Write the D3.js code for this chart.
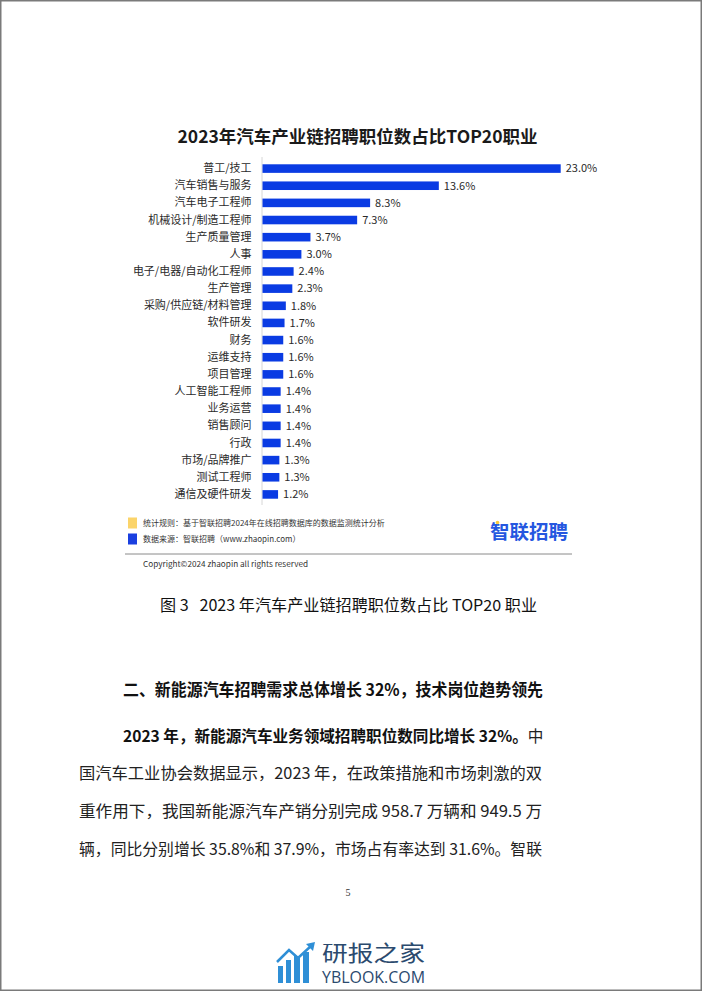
<!DOCTYPE html>
<html><head><meta charset="utf-8">
<script src="https://cdn.jsdelivr.net/npm/d3@7/dist/d3.min.js"></script>
<style>html,body{margin:0;padding:0;background:#fff;}svg{display:block;}text{white-space:pre;}</style>
</head><body>
<script>
const categories = ["普工/技工","汽车销售与服务","汽车电子工程师","机械设计/制造工程师","生产质量管理","人事","电子/电器/自动化工程师","生产管理","采购/供应链/材料管理","软件研发","财务","运维支持","项目管理","人工智能工程师","业务运营","销售顾问","行政","市场/品牌推广","测试工程师","通信及硬件研发"];
const values = [23.0,13.6,8.3,7.3,3.7,3.0,2.4,2.3,1.8,1.7,1.6,1.6,1.6,1.4,1.4,1.4,1.4,1.3,1.3,1.2];
const title = "2023年汽车产业链招聘职位数占比TOP20职业";
const legendTexts = ["统计规则：基于智联招聘2024年在线招聘数据库的数据监测统计分析","数据来源：智联招聘（www.zhaopin.com）"];
const legendColors = ["#fbd46a","#1a3fe0"];
const caption = "图 3   2023 年汽车产业链招聘职位数占比 TOP20 职业";
const heading = "二、新能源汽车招聘需求总体增长 32%，技术岗位趋势领先";
const paraLines = [
  {bold:"2023 年，新能源汽车业务领域招聘职位数同比增长 32%。", rest:"中"},
  {bold:"", rest:"国汽车工业协会数据显示，2023 年，在政策措施和市场刺激的双"},
  {bold:"", rest:"重作用下，我国新能源汽车产销分别完成 958.7 万辆和 949.5 万"},
  {bold:"", rest:"辆，同比分别增长 35.8%和 37.9%，市场占有率达到 31.6%。智联"}
];

const W = 702, H = 991;
const cjk = '"Noto Sans CJK SC", "Noto Sans", sans-serif';
const svg = d3.select("body").append("svg").attr("width", W).attr("height", H);
svg.append("rect").attr("x",0.75).attr("y",0.75).attr("width",W-1.5).attr("height",H-1.5)
  .attr("fill","#fff").attr("stroke","#7a7a7a").attr("stroke-width",1.5);

// Title
svg.append("text").attr("x",357.5).attr("y",143).attr("text-anchor","middle")
  .attr("font-family",cjk).attr("font-weight","bold").attr("font-size",17.5)
  .attr("fill","#1a1a1a").text(title);

// Chart
const x = d3.scaleLinear().domain([0,23]).range([262.5, 560.7]);
const y = d3.scaleBand().domain(categories).range([160,503]).paddingInner(0.5).paddingOuter(0.25);

svg.append("line").attr("x1",262).attr("x2",262).attr("y1",157).attr("y2",505)
  .attr("stroke","#d6d6d6").attr("stroke-width",1);

const yAxis = d3.axisLeft(y).tickSize(0).tickPadding(10.5);
const gy = svg.append("g").attr("transform","translate(262,0)").call(yAxis);
gy.select(".domain").remove();
gy.selectAll("text").attr("font-family",cjk).attr("font-size",11).attr("fill","#2a2a2a");

svg.append("g").selectAll("rect").data(values).join("rect")
  .attr("x", x(0)).attr("y",(d,i)=>y(categories[i]))
  .attr("width", d=>x(d)-x(0)).attr("height", y.bandwidth())
  .attr("fill","#0a3be3");

svg.append("g").selectAll("text").data(values).join("text")
  .attr("x", d=>x(d)+5).attr("y",(d,i)=>y(categories[i])+y.bandwidth()/2)
  .attr("dy","0.35em").attr("font-family",cjk).attr("font-size",11).attr("fill","#2a2a2a")
  .text(d=>d.toFixed(1)+"%");

// Legend
legendTexts.forEach((t,i)=>{
  const cy = 523 + i*16;
  svg.append("rect").attr("x",128).attr("y",cy-5.5).attr("width",9).attr("height",11).attr("fill",legendColors[i]);
  svg.append("text").attr("x",143).attr("y",cy).attr("dy","0.35em")
    .attr("font-family",cjk).attr("font-size",8).attr("fill","#333").text(t);
});
// zhaopin logo
svg.append("text").attr("x",490).attr("y",532).attr("dy","0.36em")
  .attr("font-family",cjk).attr("font-weight","bold").attr("font-size",19.5)
  .attr("fill","#2557e0").attr("textLength",78).attr("lengthAdjust","spacingAndGlyphs").text("智联招聘");
svg.append("circle").attr("cx",497.5).attr("cy",522.5).attr("r",1.8).attr("fill","#fbc93a");

svg.append("line").attr("x1",125).attr("x2",572).attr("y1",554).attr("y2",554)
  .attr("stroke","#8a8a8a").attr("stroke-width",1);
svg.append("text").attr("x",143).attr("y",564).attr("dy","0.35em")
  .attr("font-family",cjk).attr("font-size",8).attr("fill","#333")
  .attr("textLength",165).attr("lengthAdjust","spacingAndGlyphs")
  .text("Copyright©2024 zhaopin all rights reserved");

// Caption
svg.append("text").attr("x",160).attr("y",605).attr("dy","0.36em")
  .attr("font-family",cjk).attr("font-size",15.5).attr("fill","#111")
  .attr("textLength",377).attr("lengthAdjust","spacingAndGlyphs").text(caption);

// Heading
svg.append("text").attr("x",123).attr("y",690).attr("dy","0.36em")
  .attr("font-family",cjk).attr("font-weight","bold").attr("font-size",16.5).attr("fill","#111")
  .attr("textLength",420).attr("lengthAdjust","spacingAndGlyphs").text(heading);

// Paragraph
const lineY = [736,773,811,849];
paraLines.forEach((l,i)=>{
  if(l.bold){
    const t = svg.append("text").attr("x",123).attr("y",lineY[i]).attr("dy","0.36em")
      .attr("font-family",cjk).attr("font-size",15.6).attr("fill","#222");
    t.append("tspan").attr("font-weight","bold").attr("fill","#111").text(l.bold);
    t.append("tspan").text(l.rest);
  } else {
    svg.append("text").attr("x",79).attr("y",lineY[i]).attr("dy","0.36em")
      .attr("font-family",cjk).attr("font-size",16).attr("fill","#222")
      .attr("textLength",463).attr("lengthAdjust","spacingAndGlyphs").text(l.rest);
  }
});

// Page number
svg.append("text").attr("x",348).attr("y",892).attr("dy","0.35em").attr("text-anchor","middle")
  .attr("font-family",'"Liberation Serif", serif').attr("font-size",10).attr("fill","#333").text("5");

// Watermark
const wm = svg.append("g");
const ic = "#2f8fd6";
[[278,966,5,17],[286,960,5,23],[294,956,6,27],[303,952,6,31]].forEach(b=>{
  wm.append("rect").attr("x",b[0]).attr("y",b[1]).attr("width",b[2]).attr("height",b[3]).attr("fill",ic);
});
wm.append("path").attr("d","M277,962 L289,950 L298,958 L311,946").attr("fill","none").attr("stroke",ic).attr("stroke-width",2.5);
wm.append("path").attr("d","M306,944 L315,942 L313,951 Z").attr("fill",ic);
wm.append("text").attr("x",322).attr("y",953).attr("dy","0.36em")
  .attr("font-family",cjk).attr("font-size",21.5).attr("fill","#2b4a6e")
  .attr("textLength",103).attr("lengthAdjust","spacingAndGlyphs").text("研报之家");
wm.append("text").attr("x",322).attr("y",982.5)
  .attr("font-family",'"Open Sans", "DejaVu Sans", sans-serif').attr("font-size",16).attr("fill","#2b4a6e")
  .attr("textLength",103).attr("lengthAdjust","spacingAndGlyphs").text("YBLOOK.COM");
</script>
</body></html>
